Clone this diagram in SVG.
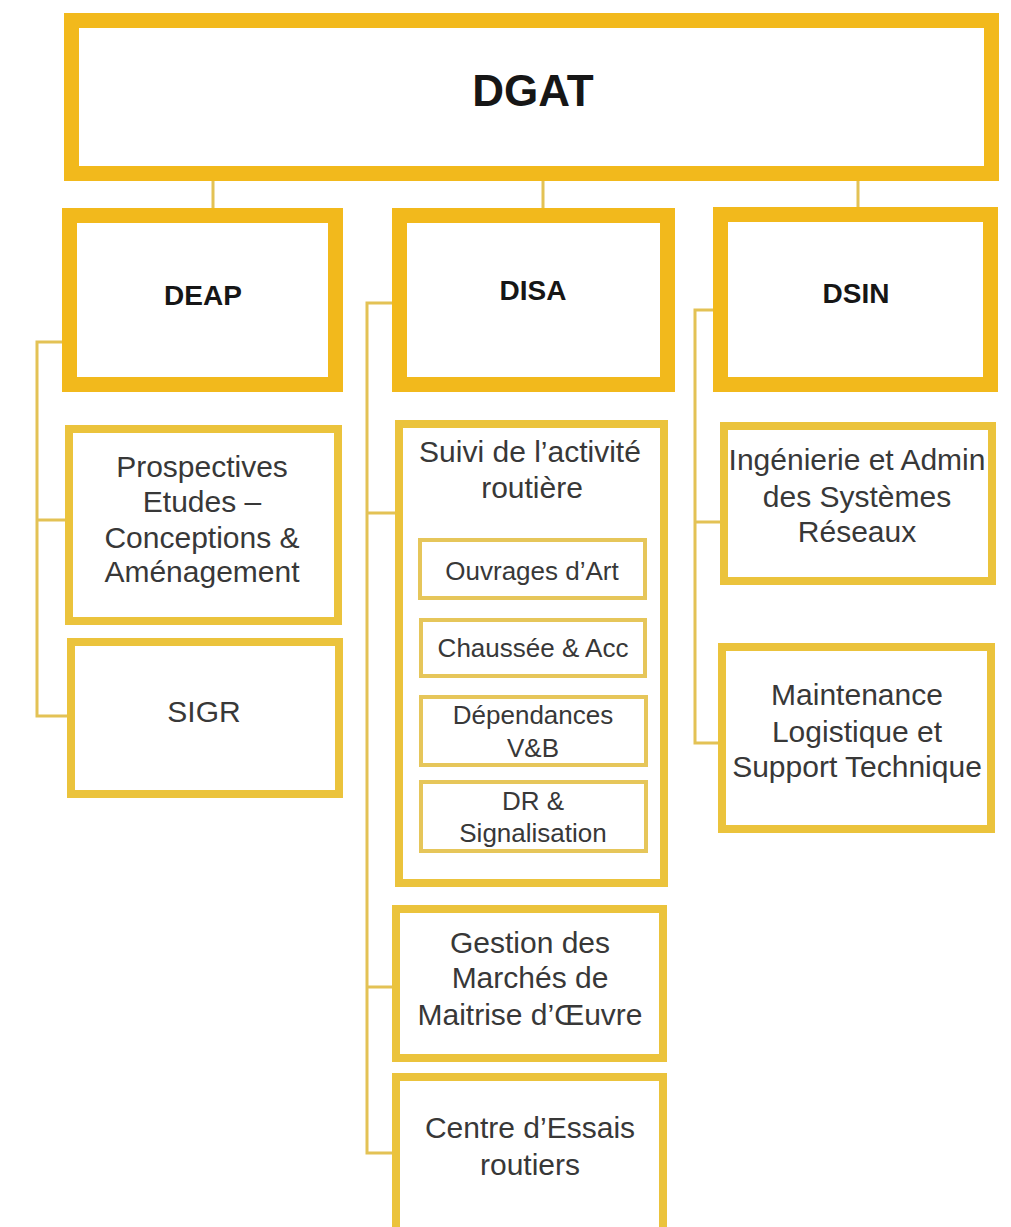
<svg xmlns="http://www.w3.org/2000/svg" width="1011" height="1227" viewBox="0 0 1011 1227">
<style>
.thick{fill:#fff;stroke:#F2B91C;stroke-width:15}
.mid{fill:#fff;stroke:#EBC33C;stroke-width:8}
.thin{fill:#fff;stroke:#E6C65A;stroke-width:4}
.conn{fill:none;stroke:#E3C255;stroke-width:3}
.title{font-family:"Liberation Sans",Arial,sans-serif;font-weight:bold;fill:#161616;text-anchor:middle}
.body{font-family:"Liberation Sans",Arial,sans-serif;font-size:30px;fill:#383838;text-anchor:middle}
.small{font-family:"Liberation Sans",Arial,sans-serif;font-size:26px;fill:#383838;text-anchor:middle}
</style>
<rect width="1011" height="1227" fill="#fff"/>
<g id="connectors">
<path class="conn" d="M213 181V208M543 181V208M858 181V207"/>
<path class="conn" d="M62 342H37V716H67M37 520H65"/>
<path class="conn" d="M392 303H367V1153H392M367 513H395M367 987H392"/>
<path class="conn" d="M713 310H695V743H718M695 522H720"/>
</g>
<g id="DGAT"><rect class="thick" x="71.5" y="20.5" width="920" height="153"/><text class="title" x="533" y="106" font-size="44">DGAT</text></g>
<g id="DEAP"><rect class="thick" x="69.5" y="215.5" width="266" height="169"/><text class="title" x="203" y="305" font-size="28">DEAP</text></g>
<g id="DISA"><rect class="thick" x="399.5" y="215.5" width="268" height="169"/><text class="title" x="533" y="300" font-size="28">DISA</text></g>
<g id="DSIN"><rect class="thick" x="720.5" y="214.5" width="270" height="170"/><text class="title" x="856" y="303" font-size="28">DSIN</text></g>
<g id="prospectives"><rect class="mid" x="69" y="429" width="269" height="192"/>
<text class="body" x="202" y="477">Prospectives</text>
<text class="body" x="202" y="512">Etudes –</text>
<text class="body" x="202" y="548">Conceptions &amp;</text>
<text class="body" x="202" y="582">Aménagement</text></g>
<g id="SIGR"><rect class="mid" x="71" y="642" width="268" height="152"/><text class="body" x="204" y="722">SIGR</text></g>
<g id="suivi"><rect class="mid" x="399" y="424" width="265" height="459"/>
<text class="body" x="530" y="462">Suivi de l’activité</text>
<text class="body" x="532" y="498">routière</text></g>
<g id="ouvrages"><rect class="thin" x="420" y="540" width="225" height="58"/><text class="small" x="532" y="580">Ouvrages d’Art</text></g>
<g id="chaussee"><rect class="thin" x="421" y="620" width="224" height="56"/><text class="small" x="533" y="657">Chaussée &amp; Acc</text></g>
<g id="dependances"><rect class="thin" x="421" y="697" width="225" height="68"/><text class="small" x="533" y="724">Dépendances</text><text class="small" x="533" y="757">V&amp;B</text></g>
<g id="dr"><rect class="thin" x="421" y="782" width="225" height="69"/><text class="small" x="533" y="810">DR &amp;</text><text class="small" x="533" y="842">Signalisation</text></g>
<g id="gestion"><rect class="mid" x="396" y="909" width="267" height="149"/>
<text class="body" x="530" y="953">Gestion des</text>
<text class="body" x="530" y="988">Marchés de</text>
<text class="body" x="530" y="1025">Maitrise d’Œuvre</text></g>
<g id="centre"><rect class="mid" x="396" y="1077" width="267" height="170"/>
<text class="body" x="530" y="1138">Centre d’Essais</text>
<text class="body" x="530" y="1175">routiers</text></g>
<g id="ingenierie"><rect class="mid" x="724" y="426" width="268" height="155"/>
<text class="body" x="857" y="470">Ingénierie et Admin</text>
<text class="body" x="857" y="507">des Systèmes</text>
<text class="body" x="857" y="542">Réseaux</text></g>
<g id="maintenance"><rect class="mid" x="722" y="647" width="269" height="182"/>
<text class="body" x="857" y="705">Maintenance</text>
<text class="body" x="857" y="742">Logistique et</text>
<text class="body" x="857" y="777">Support Technique</text></g>
</svg>
